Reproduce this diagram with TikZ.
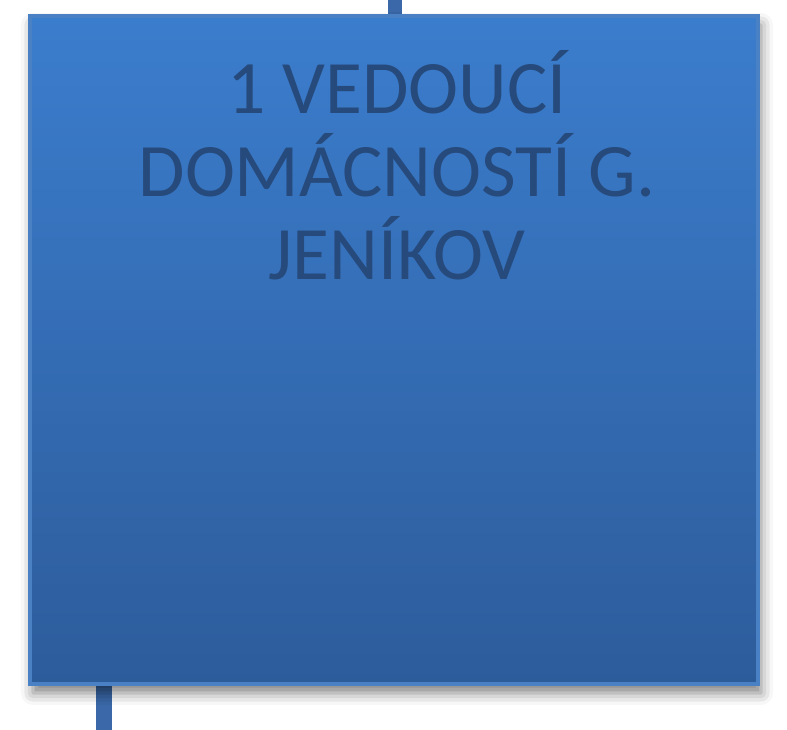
\documentclass[tikz,border=0pt]{standalone}
\usepackage{fontspec}
\setmainfont{Carlito}
\usetikzlibrary{positioning,shadows.blur}
\definecolor{unittop}{RGB}{59,125,205}
\definecolor{unitbottom}{RGB}{45,92,155}
\definecolor{unitedge}{RGB}{74,128,196}
\definecolor{unittext}{RGB}{38,74,124}
\definecolor{linkblue}{RGB}{58,104,168}
\tikzset{
    unit/.style={%
        draw=unitedge, line width=4pt,
        top color=unittop, bottom color=unitbottom,
        minimum width=#1,
        minimum height=668pt,
        inner sep=0pt,
        blur shadow={shadow xshift=3pt, shadow yshift=-9pt,
          shadow blur radius=12pt, shadow opacity=50}
        },
    unit/.default=728pt,
    unittitle/.style={%
        text=unittext, inner sep=0pt, align=center,
        font=\fontsize{75.5}{83}\selectfont
        },
    link/.style={draw=linkblue}
}

\begin{document}
\begin{tikzpicture}[x=1pt,y=1pt]

\useasboundingbox (0,0) rectangle (787,730);

\coordinate (up) at (395,730);
\coordinate (down) at (104,0);

\draw[link, line width=14pt] (up) -- (395,700);
\draw[link, line width=16pt] (down) -- (104,60);

\node[unit] (vedouci) at (394,380) {};

\node[unittitle, below=36pt of vedouci.north, xshift=3pt] (vedoucititle) {1 VEDOUCÍ\\DOMÁCNOSTÍ G.\\JENÍKOV};

\end{tikzpicture}
\end{document}
